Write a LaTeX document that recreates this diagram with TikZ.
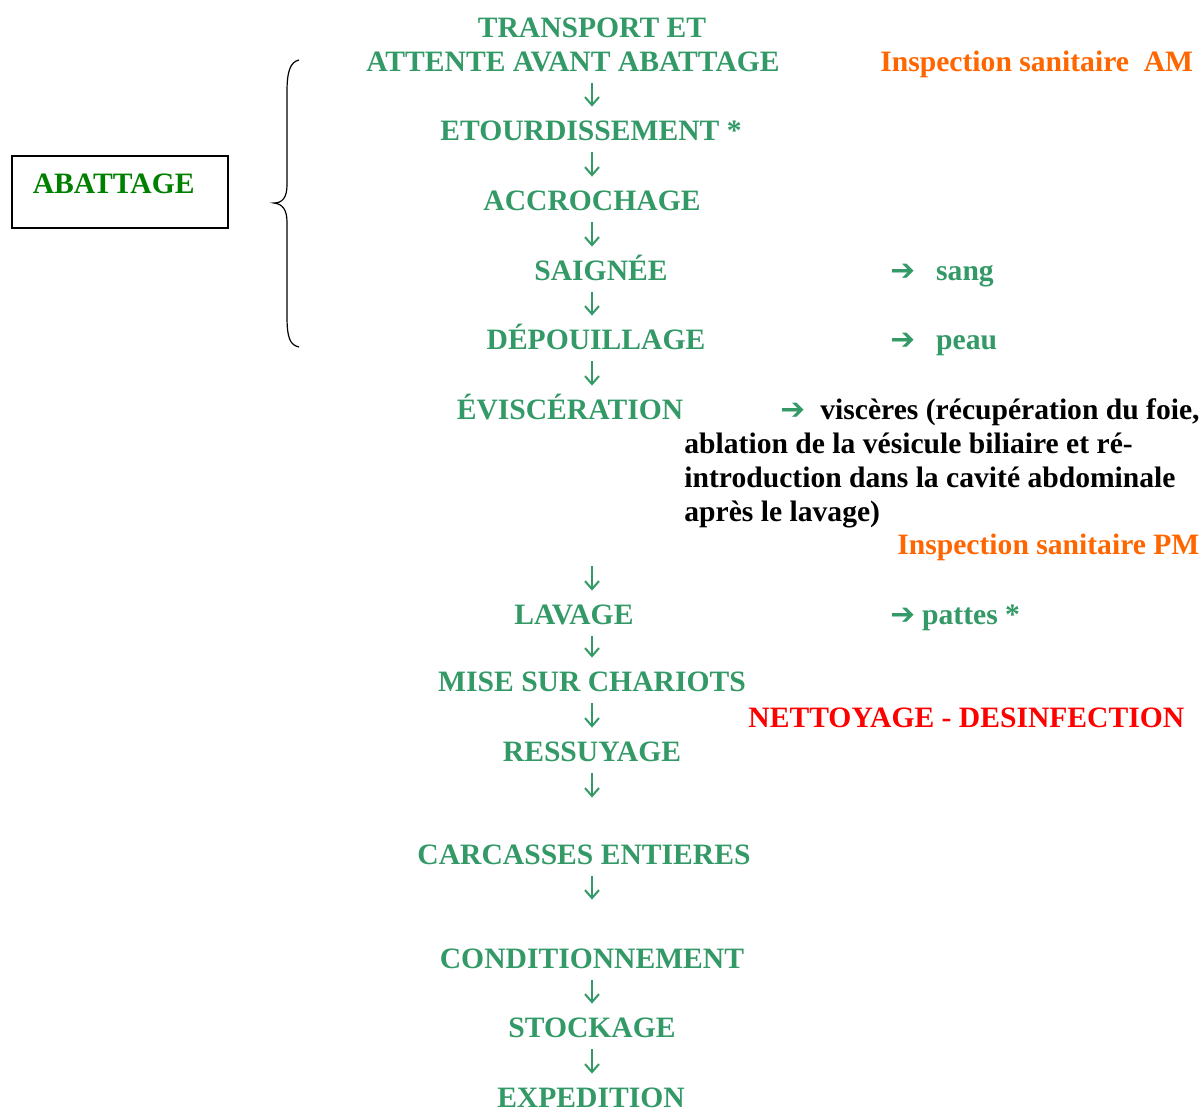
\documentclass[tikz,border=0pt]{standalone}
\usepackage{fontspec}
\setmainfont{Liberation Serif}
\newfontfamily\arrowfont{DejaVu Sans}
\usetikzlibrary{arrows.meta}
\definecolor{stepgreen}{RGB}{51,153,102}
\definecolor{boxgreen}{RGB}{0,128,0}
\definecolor{inspect}{RGB}{255,102,0}
\newcommand{\sidearrow}{{\arrowfont\symbol{"2794}}}
\begin{document}
\begin{tikzpicture}[x=0.5pt, y=-0.5pt, font=\fontsize{14.8}{17}\selectfont\bfseries,
  stage/.style = {text=stepgreen, anchor=base, inner sep=0pt, text height=9.5pt, text depth=0pt},
  side/.style = {anchor=base west, inner sep=0pt},
  flow/.style = {stepgreen, line width=1pt, -{Straight Barb[length=4pt,width=7pt]}, shorten <=5.5pt, shorten >=7.5pt}]
  \useasboundingbox (0,0) rectangle (1201,1111);
  \node[stage] (transport) at (592,38) {TRANSPORT ET};
  \node[stage] (attente) at (573,72) {ATTENTE AVANT ABATTAGE};
  \node[stage] (etourd) at (591,141) {ETOURDISSEMENT *};
  \node[stage] (accroch) at (592,211) {ACCROCHAGE};
  \node[stage] (saignee) at (601,281) {SAIGNÉE};
  \node[stage] (depouil) at (596,350) {DÉPOUILLAGE};
  \node[stage] (evisc) at (570,420) {ÉVISCÉRATION};
  \node[stage] (lavage) at (574,625) {LAVAGE};
  \node[stage] (chariots) at (592,692) {MISE SUR CHARIOTS};
  \node[stage] (ressuy) at (592,762) {RESSUYAGE};
  \node[stage] (carcass) at (584,865) {CARCASSES ENTIERES};
  \node[stage] (condit) at (592,969) {CONDITIONNEMENT};
  \node[stage] (stock) at (592,1038) {STOCKAGE};
  \node[stage] (expedit) at (591,1108) {EXPEDITION};
  \coordinate (spine) at (592,0);
  \draw[flow] (attente.south -| spine) to (etourd.north -| spine);
  \draw[flow] (etourd.south -| spine) to (accroch.north -| spine);
  \draw[flow] (accroch.south -| spine) to (saignee.north -| spine);
  \draw[flow] (saignee.south -| spine) to (depouil.north -| spine);
  \draw[flow] (depouil.south -| spine) to (evisc.north -| spine);
  \draw[flow, shorten <=73pt] (evisc.south -| spine) to (lavage.north -| spine);
  \draw[flow] (lavage.south -| spine) to (chariots.north -| spine);
  \draw[flow] (chariots.south -| spine) to (ressuy.north -| spine);
  \draw[flow, shorten >=24pt] (ressuy.south -| spine) to (carcass.north -| spine);
  \draw[flow, shorten >=25pt] (carcass.south -| spine) to (condit.north -| spine);
  \draw[flow] (condit.south -| spine) to (stock.north -| spine);
  \draw[flow] (stock.south -| spine) to (expedit.north -| spine);
  \node[side, text=inspect] (inspam) at (880,72) {Inspection sanitaire\ \ AM};
  \node[side, text=stepgreen] (sang) at (890,281) {\sidearrow\hspace{10.5pt}sang};
  \node[side, text=stepgreen] (peau) at (890,350) {\sidearrow\hspace{10.5pt}peau};
  \node[side, text=stepgreen] (viscarrow) at (780,420) {\sidearrow};
  \node[side, align=left] (visceres) at (684,522) {\hspace*{68pt}viscères (récupération du foie,\\
    ablation de la vésicule biliaire et ré-\\
    introduction dans la cavité abdominale\\
    après le lavage)};
  \node[side, text=inspect] (insppm) at (897,555) {Inspection sanitaire PM};
  \node[side, text=stepgreen] (pattes) at (890,625) {\sidearrow\hspace{3.5pt}pattes *};
  \node[side, text=red] (nettoy) at (748,728) {NETTOYAGE - DESINFECTION};
  \node[draw, thick, text=boxgreen, anchor=base west, inner xsep=10.5pt, inner ysep=0pt,
    text width=87pt, text height=19pt, text depth=17pt, align=left] (abattage) at (11,194) {ABATTAGE};
  \draw[semithick] (299,60) .. controls (290,62) and (287,72) .. (287,92) -- (287,185)
    .. controls (287,198) and (282,203) .. (274,203)
    .. controls (282,204) and (287,209) .. (287,222) -- (287,316)
    .. controls (287,338) and (290,345) .. (299,347);
\end{tikzpicture}
\end{document}
